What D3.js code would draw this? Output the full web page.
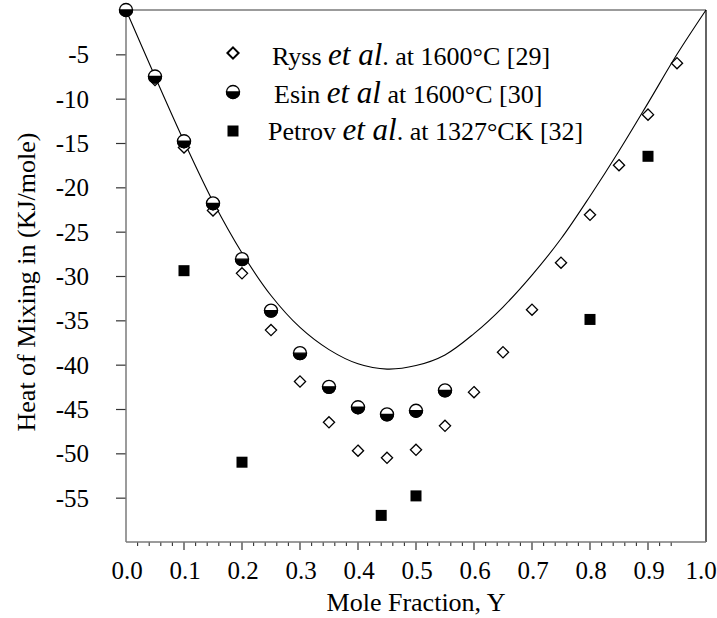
<!DOCTYPE html>
<html>
<head>
<meta charset="utf-8">
<script src="https://cdn.jsdelivr.net/npm/d3@7/dist/d3.min.js"></script>
<style>
  html, body { margin: 0; padding: 0; background: #fff; }
  svg { display: block; font-family: "Liberation Serif", "Times New Roman", serif; }
</style>
</head>
<body>
<svg id="chart" width="717" height="618"></svg>
<script>
// ---- data ----
const curveX = [0, 0.05, 0.1, 0.15, 0.2, 0.25, 0.3, 0.35, 0.4, 0.45, 0.5, 0.55, 0.6, 0.65, 0.7, 0.75, 0.8, 0.85, 0.9, 0.95, 1.0];
const curveY = [0, -7.5, -14.8, -21.6, -27.4, -32.2, -35.8, -38.3, -39.9, -40.5, -40.1, -38.9, -36.5, -33.5, -29.9, -25.8, -21.0, -15.9, -10.5, -5.0, 0];

const ryssX = [0, 0.05, 0.1, 0.15, 0.2, 0.25, 0.3, 0.35, 0.4, 0.45, 0.5, 0.55, 0.6, 0.65, 0.7, 0.75, 0.8, 0.85, 0.9, 0.95];
const ryssY = [0, -7.9, -15.5, -22.6, -29.7, -36.1, -41.9, -46.5, -49.7, -50.5, -49.6, -46.9, -43.1, -38.6, -33.8, -28.5, -23.1, -17.5, -11.8, -6.0];

const esinX = [0, 0.05, 0.1, 0.15, 0.2, 0.25, 0.3, 0.35, 0.4, 0.45, 0.5, 0.55];
const esinY = [0, -7.5, -14.8, -21.8, -28.1, -33.9, -38.7, -42.5, -44.8, -45.6, -45.2, -42.9];

const petrovX = [0.1, 0.2, 0.44, 0.5, 0.8, 0.9];
const petrovY = [-29.4, -51.0, -57.0, -54.8, -34.9, -16.5];

const yTicks = [-5, -10, -15, -20, -25, -30, -35, -40, -45, -50, -55];
const xLabels = [0.0, 0.1, 0.2, 0.3, 0.4, 0.5, 0.6, 0.7, 0.8, 0.9, 1.0];
const xMajor = [0.1, 0.2, 0.3, 0.4, 0.5, 0.6, 0.7, 0.8, 0.9];
const xMinor = d3.range(1, 48).map(i => i / 50).filter(v => Math.abs(v * 10 - Math.round(v * 10)) > 1e-6);

const legendItems = [
  { sym: "diamond", pre: "Ryss ", it: "et al", post: ". at 1600°C [29]" },
  { sym: "half",    pre: "Esin ", it: "et al", post: " at 1600°C [30]" },
  { sym: "square",  pre: "Petrov ", it: "et al", post: ". at 1327°CK [32]" }
];

// ---- layout ----
const svg = d3.select("#chart");
const x = d3.scaleLinear().domain([0, 1]).range([126, 706]);
const y = d3.scaleLinear().domain([-60, 0]).range([542, 10]);
const FS = 25;

// frame
svg.append("line").attr("x1", x(0)).attr("x2", x(1)).attr("y1", y(0)).attr("y2", y(0)).attr("stroke", "#7a7a7a").attr("stroke-width", 1.5);
svg.append("line").attr("x1", x(1)).attr("x2", x(1)).attr("y1", y(0)).attr("y2", y(-60)).attr("stroke", "#111").attr("stroke-width", 1.3);

// y axis
const yAxis = svg.append("g").attr("transform", `translate(${x(0)},0)`)
  .call(d3.axisLeft(y).tickValues(yTicks).tickSize(10).tickPadding(27).tickFormat(d3.format("d")));
yAxis.select(".domain").remove();
yAxis.selectAll(".tick line").attr("stroke", "#333").attr("stroke-width", 1.2);
yAxis.selectAll(".tick text").attr("font-family", "Liberation Serif").attr("font-size", FS).attr("fill", "#000")
  .text(d => "-" + Math.abs(d)).attr("dy", "0.34em");
svg.append("line").attr("x1", x(0)).attr("x2", x(0)).attr("y1", y(0)).attr("y2", y(-60)).attr("stroke", "#7a7a7a").attr("stroke-width", 1.5);

// x axis ticks
const xg = svg.append("g");
xg.selectAll("line.minor").data(xMinor).join("line")
  .attr("x1", d => x(d)).attr("x2", d => x(d)).attr("y1", y(-60)).attr("y2", y(-60) + 4)
  .attr("stroke", "#333").attr("stroke-width", 1.1);
xg.selectAll("line.major").data(xMajor).join("line")
  .attr("x1", d => x(d)).attr("x2", d => x(d)).attr("y1", y(-60)).attr("y2", y(-60) + 8)
  .attr("stroke", "#333").attr("stroke-width", 1.2);
svg.append("line").attr("x1", x(0)).attr("x2", x(1)).attr("y1", y(-60)).attr("y2", y(-60)).attr("stroke", "#7a7a7a").attr("stroke-width", 1.5);
xg.selectAll("text").data(xLabels).join("text")
  .attr("x", d => x(d) + (d === 1 ? -5 : 1)).attr("y", y(-60) + 37)
  .attr("text-anchor", "middle").attr("font-size", FS)
  .text(d => d3.format(".1f")(d));

// axis titles
svg.append("text").attr("x", (x(0) + x(1)) / 2).attr("y", 611).attr("text-anchor", "middle").attr("font-size", 26)
  .text("Mole Fraction, Y");
svg.append("text").attr("transform", `translate(35,${(y(0) + y(-60)) / 2 + 6}) rotate(-90)`).attr("text-anchor", "middle").attr("font-size", 26)
  .text("Heat of Mixing in (KJ/mole)");

// curve
svg.append("path")
  .datum(curveX.map((v, i) => [v, curveY[i]]))
  .attr("fill", "none").attr("stroke", "#000").attr("stroke-width", 1.1)
  .attr("d", d3.line().x(d => x(d[0])).y(d => y(d[1])).curve(d3.curveCatmullRom.alpha(0.5)));

// symbols
function drawDiamond(g, cx, cy, sw) {
  const r = 5.6;
  g.append("path").attr("d", `M${cx},${cy - r}L${cx + r},${cy}L${cx},${cy + r}L${cx - r},${cy}Z`)
    .attr("fill", "#fff").attr("stroke", "#000").attr("stroke-width", sw || 1.3);
}
function drawHalf(g, cx, cy) {
  const r = 6.5;
  g.append("circle").attr("cx", cx).attr("cy", cy).attr("r", r).attr("fill", "#fff").attr("stroke", "#000").attr("stroke-width", 1.3);
  g.append("path").attr("d", `M${cx - r},${cy}A${r},${r} 0 0 0 ${cx + r},${cy}Z`).attr("fill", "#000").attr("stroke", "#000").attr("stroke-width", 1.3);
}
function drawSquare(g, cx, cy) {
  const s = 11;
  g.append("rect").attr("x", cx - s / 2).attr("y", cy - s / 2).attr("width", s).attr("height", s).attr("fill", "#000");
}

const pts = svg.append("g");
ryssX.forEach((v, i) => drawDiamond(pts, x(v), y(ryssY[i])));
esinX.forEach((v, i) => drawHalf(pts, x(v), y(esinY[i])));
petrovX.forEach((v, i) => drawSquare(pts, x(v), y(petrovY[i])));

// legend
const lg = svg.append("g");
const symY = [53, 92, 131];
const txtX = [272, 274, 268];
const baseY = [65, 103, 140];
legendItems.forEach((it, i) => {
  if (it.sym === "diamond") drawDiamond(lg, 233, symY[i], 2);
  else if (it.sym === "half") drawHalf(lg, 233, symY[i]);
  else drawSquare(lg, 233, symY[i]);
  const t = lg.append("text").attr("x", txtX[i]).attr("y", baseY[i]).attr("font-size", 26);
  t.append("tspan").text(it.pre);
  t.append("tspan").attr("font-style", "italic").attr("font-size", 31).text(it.it);
  t.append("tspan").text(it.post);
});
</script>
</body>
</html>
